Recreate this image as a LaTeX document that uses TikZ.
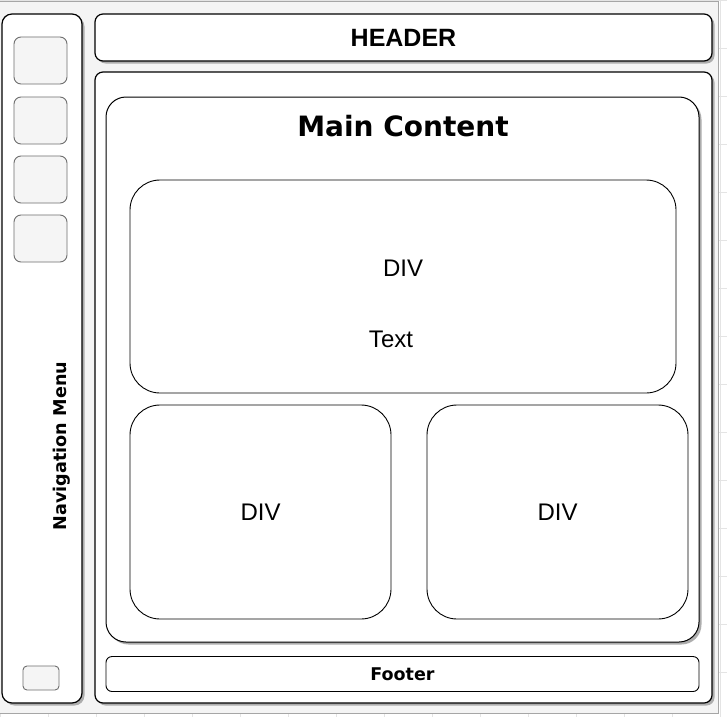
\documentclass[tikz,border=0pt]{standalone}
\usepackage{fontspec}
\setmainfont{Liberation Sans}
\newfontfamily\verdanafont{DejaVu Sans}
\usetikzlibrary{shadows}
\definecolor{pagebg}{HTML}{F4F4F4}
\definecolor{gridline}{HTML}{E4E4E4}
\definecolor{framegray}{HTML}{A6A6A6}
\definecolor{btnfill}{HTML}{F5F5F5}
\definecolor{btnline}{HTML}{6E6E6E}
\tikzset{
  panel/.style={draw=black, fill=white, line width=1.2pt, rectangle, inner sep=0pt,
    drop shadow={shadow xshift=2.5pt, shadow yshift=-2.5pt, fill=black!32, opacity=1}},
  box/.style={draw=black, fill=white, line width=0.9pt, rectangle, inner sep=0pt},
  navbtn/.style={draw=btnline, fill=btnfill, line width=0.9pt, rectangle, rounded corners=7pt, inner sep=0pt},
  divlabel/.style={font=\fontsize{24}{24}\selectfont},
}
\begin{document}
\begin{tikzpicture}[x=1pt, y=-1pt]
\useasboundingbox (0,0) rectangle (727,717);
% canvas grid and page
\fill[white] (0,0) rectangle (727,717);
\draw[gridline, line width=0.5pt, step=48pt] (0,0) grid (727,717);
\fill[pagebg] (0,1.5) rectangle (718,713);
\draw[framegray, line width=0.8pt] (0,1.5) -- (718,1.5) -- (718,713) -- (0,713);

% navigation column
\node[panel, rounded corners=10pt, minimum width=80pt, minimum height=689pt] (nav) at (42,358.5) {};
\node[navbtn, minimum width=53pt, minimum height=47pt] (btnA) at (40.5,60.5) {};
\node[navbtn, minimum width=53pt, minimum height=47pt] (btnB) at (40.5,120.5) {};
\node[navbtn, minimum width=53pt, minimum height=47pt] (btnC) at (40.5,179.5) {};
\node[navbtn, minimum width=53pt, minimum height=47pt] (btnD) at (40.5,238.5) {};
\node[navbtn, rounded corners=4pt, minimum width=36pt, minimum height=24pt] (btnE) at (41,678) {};
\node[rotate=90, font=\verdanafont\bfseries\fontsize{17.6}{17.6}\selectfont] (navlabel) at (62,446) {Navigation Menu};

% header bar
\node[panel, rounded corners=8pt, minimum width=617pt, minimum height=47pt,
      font=\bfseries\fontsize{25}{25}\selectfont] (header) at (403.5,37.5) {HEADER};

% main frame
\node[panel, rounded corners=8pt, minimum width=617pt, minimum height=631pt] (frame) at (403.5,387.5) {};
\node[panel, line width=1pt, rounded corners=20pt, minimum width=593pt, minimum height=545pt] (content) at (402.5,369.5) {};
\node[font=\verdanafont\bfseries\fontsize{28}{28}\selectfont] (title) at (403,126) {Main Content};

% content blocks
\node[box, rounded corners=30pt, minimum width=546pt, minimum height=213pt] (bigdiv) at (403,286.5) {};
\node[divlabel] (bigdivlabel) at (403,268) {DIV};
\node[divlabel] (bigdivtext) at (391,339) {Text};
\node[box, rounded corners=30pt, minimum width=261pt, minimum height=214pt, divlabel] (leftdiv) at (260.5,512) {DIV};
\node[box, rounded corners=30pt, minimum width=261pt, minimum height=214pt, divlabel] (rightdiv) at (557.5,512) {DIV};

% footer bar
\node[box, rounded corners=6pt, minimum width=593pt, minimum height=35pt,
      font=\verdanafont\bfseries\fontsize{17.5}{17.5}\selectfont] (footer) at (402.5,674) {Footer};
\end{tikzpicture}
\end{document}
